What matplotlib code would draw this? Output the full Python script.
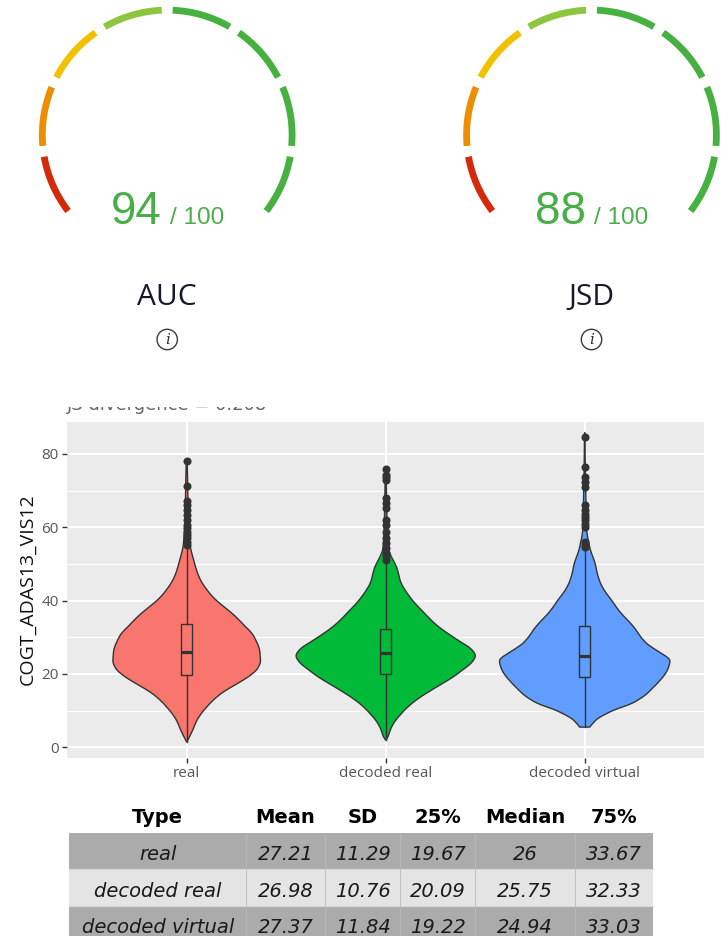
import numpy as np
import matplotlib
matplotlib.use("Agg")
import matplotlib.pyplot as plt
from matplotlib.patches import Wedge, Circle, Rectangle, PathPatch
from matplotlib.path import Path

# ---------------- data ----------------
gauge_names = ["AUC", "JSD"]
gauge_scores = [94, 88]
gauge_max = 100
segment_colors = ["#d42a0b", "#ec8e00", "#f1c100", "#8cc63f",
                  "#46b041", "#46b041", "#46b041", "#46b041"]

groups = ["real", "decoded real", "decoded virtual"]
fill_colors = ["#F8766D", "#00BA38", "#619CFF"]
y_label = "COGT_ADAS13_VIS12"
plot_title = "JS divergence = 0.208"

# violin outlines: value levels and relative density (half-width)
real_levels = [1.4, 3, 5, 7, 9, 11, 13, 15, 17, 19, 21, 23, 25, 27, 29, 31, 33, 35,
               37, 39, 41, 43, 45, 47, 49, 51, 53, 55, 58, 62, 68, 74, 78]
real_density = [0, 3, 6.5, 9.5, 14, 20, 27, 36, 48, 60, 69, 73, 73, 72, 69, 65, 58, 51,
                43, 34, 26, 20, 15, 11.5, 9, 7, 5, 3.5, 2.5, 1.8, 1.2, 0.8, 0.3]
dreal_levels = [1.9, 3, 5, 7, 9, 11, 13, 15, 17, 19, 21, 23, 25, 27, 29, 31, 33, 35,
                37, 39, 41, 43, 45, 47, 49, 51, 53, 55, 60, 66, 72, 76]
dreal_density = [0, 2.5, 5, 9, 15, 22, 31, 42, 54, 66, 76, 85, 89, 84, 73, 62, 52, 44,
                 37, 30, 24, 19, 15, 13, 11, 7.5, 4, 2.5, 1.5, 1, 0.6, 0.2]
dvirt_levels = [5.5, 6.5, 8, 10, 12, 14, 16, 18, 20, 22, 24, 26, 28, 30, 32, 34, 36, 38,
                40, 42, 44, 46, 48, 50, 52, 54, 56, 59, 64, 70, 77, 85]
dvirt_density = [5, 8, 14, 28, 47, 59, 67, 74, 80, 83.5, 84, 74, 63, 56, 51, 45, 38, 32,
                 27, 21.5, 17, 14, 12, 10.5, 8, 5.5, 4, 2, 1.5, 1, 0.5, 0.2]

whisker_low = [1.4, 1.9, 5.5]
whisker_high = [54.5, 50.7, 53.7]
real_outliers = [55.2, 56.1, 57.0, 57.9, 58.8, 59.7, 60.6, 61.9, 63.3, 64.6, 66.0, 67.1, 71.3, 78.1]
dreal_outliers = [51.2, 52.1, 53.0, 54.3, 55.7, 57.0, 58.8, 60.6, 61.9, 65.2, 66.5, 67.9,
                  72.9, 73.8, 74.2, 76.0]
dvirt_outliers = [54.5, 55.2, 56.0, 60.2, 61.0, 61.9, 62.8, 63.7, 64.6, 66.0, 71.1, 72.4,
                  73.8, 76.5, 84.7]

# summary table
table_header = ["Type", "Mean", "SD", "25%", "Median", "75%"]
stat_mean = [27.21, 26.98, 27.37]
stat_sd = [11.29, 10.76, 11.84]
stat_q1 = [19.67, 20.09, 19.22]
stat_median = [26, 25.75, 24.94]
stat_q3 = [33.67, 32.33, 33.03]

# ---------------- figure ----------------
W, H = 728, 936
fig = plt.figure(figsize=(W / 100, H / 100), dpi=100)
plt.rcParams["font.family"] = ["Open Sans", "DejaVu Sans"]

ax0 = fig.add_axes([0, 0, 1, 1])
ax0.set_xlim(0, W)
ax0.set_ylim(H, 0)
ax0.axis("off")

# ----- gauges -----
gauge_centers = [(167.2, 135.0), (591.5, 135.0)]
r_out, ring = 128.3, 6.8
start_angle, seg_span, gap = 217.5, 27.5, 5.0
num_color = "#4aae48"
renderer = fig.canvas.get_renderer()
for (cx, cy), name, score in zip(gauge_centers, gauge_names, gauge_scores):
    for k, col in enumerate(segment_colors):
        a_start = start_angle - k * (seg_span + gap)
        a_end = a_start - seg_span
        ax0.add_patch(Wedge((cx, cy), r_out, -a_start, -a_end, width=ring,
                            facecolor=col, edgecolor="none"))
    t1 = ax0.text(0, 224, str(score), fontsize=33, family="Liberation Sans",
                  color=num_color, ha="left", va="baseline")
    t2 = ax0.text(0, 224, "/ " + str(gauge_max), fontsize=17.5, family="Liberation Sans",
                  color=num_color, ha="left", va="baseline")
    w1 = t1.get_window_extent(renderer).width
    w2 = t2.get_window_extent(renderer).width
    sep = 8.5
    x_left = cx - (w1 + sep + w2) / 2
    t1.set_x(x_left)
    t2.set_x(x_left + w1 + sep)
    ax0.text(cx, 305, name, fontsize=21.5, family="Open Sans", color="#15182a",
             ha="center", va="baseline")
    ax0.add_patch(Circle((cx, 339.5), 10.2, fill=False, edgecolor="#3a3a3a", lw=1.0))
    ax0.text(cx, 340, "i", fontsize=11, family="DejaVu Serif", style="italic",
             color="#333333", ha="center", va="center")

# ----- title, mostly cut off in the reference -----
ax0.text(67, 410, plot_title, fontsize=13, family="DejaVu Sans", color="#666666",
         ha="left", va="baseline", zorder=1)
ax0.add_patch(Rectangle((0, 370), W, 37.0, facecolor="white", edgecolor="none", zorder=2))

# ----- violin panel -----
px_l, px_r, px_t, px_b = 67.3, 704.1, 421.7, 757.7
ax = fig.add_axes([px_l / W, 1 - px_b / H, (px_r - px_l) / W, (px_b - px_t) / H])
ax.set_facecolor("#EBEBEB")
for s in ax.spines.values():
    s.set_visible(False)
ax.set_xlim(0.4, 3.6)
ax.set_ylim(-2.85, 88.8)
ax.set_xticks([1, 2, 3])
ax.set_xticklabels(groups)
ax.set_yticks([0, 20, 40, 60, 80])
ax.set_yticks([10, 30, 50, 70], minor=True)
ax.grid(which="major", color="white", lw=1.4)
ax.grid(which="minor", axis="y", color="white", lw=0.7)
ax.set_axisbelow(True)
ax.tick_params(which="major", length=3.5, width=1.0, color="#333333",
               labelcolor="#555555", labelsize=11, pad=2.5)
ax.tick_params(which="minor", length=0)


def smooth_outline(pts):
    P = np.asarray(pts, dtype=float)
    n = len(P)
    verts = [P[0]]
    codes = [Path.MOVETO]
    for k in range(n - 1):
        p0 = P[k - 1] if k > 0 else P[k]
        p1 = P[k]
        p2 = P[k + 1]
        p3 = P[k + 2] if k + 2 < n else P[k + 1]
        verts += [p1 + (p2 - p0) / 6.0, p2 - (p3 - p1) / 6.0, p2]
        codes += [Path.CURVE4] * 3
    verts.append(P[0])
    codes.append(Path.CLOSEPOLY)
    return Path(verts, codes)


levels_all = [real_levels, dreal_levels, dvirt_levels]
dens_all = [real_density, dreal_density, dvirt_density]
outl_all = [real_outliers, dreal_outliers, dvirt_outliers]
gmax = max(max(d) for d in dens_all)
edge = "#333333"
box_hw = 0.0275
for i in range(3):
    x0 = i + 1
    yv = np.array(levels_all[i])
    hw = np.array(dens_all[i]) / gmax * 0.45
    right = [(x0 + w, y) for w, y in zip(hw, yv)]
    left = [(x0 - w, y) for w, y in zip(hw[::-1], yv[::-1])]
    if hw[0] == 0:
        left = left[:-1]
    path = smooth_outline(right + left)
    ax.add_patch(PathPatch(path, facecolor=fill_colors[i], edgecolor=edge, lw=1.0, zorder=2))
    ax.plot([x0, x0], [whisker_low[i], stat_q1[i]], color=edge, lw=1.0, zorder=3)
    ax.plot([x0, x0], [stat_q3[i], whisker_high[i]], color=edge, lw=1.0, zorder=3)
    ax.add_patch(Rectangle((x0 - box_hw, stat_q1[i]), 2 * box_hw, stat_q3[i] - stat_q1[i],
                           fill=False, edgecolor=edge, lw=1.0, zorder=3))
    ax.plot([x0 - box_hw, x0 + box_hw], [stat_median[i]] * 2, color=edge, lw=2.3,
            zorder=3, solid_capstyle="butt")
    ax.plot([x0] * len(outl_all[i]), outl_all[i], "o", ms=4.8, color=edge, zorder=4)

fig.text(28 / W, 1 - 589 / H, y_label, rotation=90, ha="center", va="center",
         fontsize=14, family="Open Sans", color="#111111")

# ----- table -----
col_edges = [69.4, 246, 325, 400, 475, 575, 653]
row_edges = [833.3, 869.3, 906, 943]
row_colors = ["#ABABAB", "#E4E4E4", "#ABABAB"]
header_base = 823.3
row_base = [859.5, 896.6, 933.3]
col_centers = [(a + b) / 2 for a, b in zip(col_edges[:-1], col_edges[1:])]

for r in range(3):
    ax0.add_patch(Rectangle((col_edges[0], row_edges[r]), col_edges[-1] - col_edges[0],
                            row_edges[r + 1] - row_edges[r], facecolor=row_colors[r],
                            edgecolor="none", zorder=1))
for r in range(1, 3):
    ax0.plot([col_edges[0], col_edges[-1]], [row_edges[r]] * 2, color="#d9d9d9", lw=0.8, zorder=2)
for c in range(1, len(col_edges) - 1):
    ax0.plot([col_edges[c]] * 2, [row_edges[0], row_edges[-1]], color="#b9b9b9", lw=0.6, zorder=2)

for c, h in enumerate(table_header):
    ax0.text(col_centers[c], header_base, h, fontsize=14, family="DejaVu Sans",
             weight="bold", color="black", ha="center", va="baseline", zorder=3)


def fmt(v):
    return "%g" % v


for r in range(3):
    cells = [groups[r], fmt(stat_mean[r]), fmt(stat_sd[r]), fmt(stat_q1[r]),
             fmt(stat_median[r]), fmt(stat_q3[r])]
    for c, s in enumerate(cells):
        ax0.text(col_centers[c], row_base[r], s, fontsize=14, family="DejaVu Sans",
                 style="italic", color="#1a1a1a", ha="center", va="baseline", zorder=3)

fig.savefig("out.png", dpi=100)
